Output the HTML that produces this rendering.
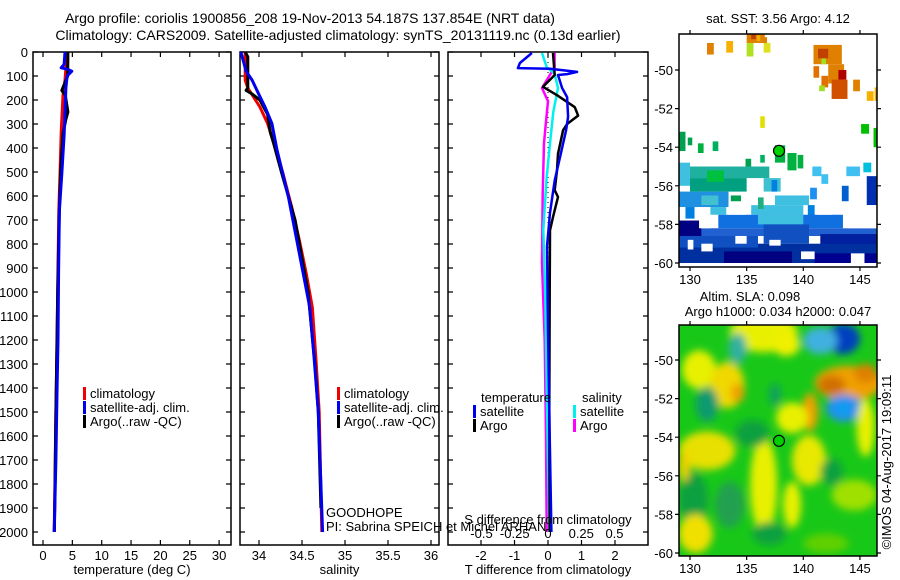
<!DOCTYPE html>
<html><head><meta charset="utf-8">
<style>
html,body{margin:0;padding:0;background:#fff;}
svg{display:block;font-family:"Liberation Sans",sans-serif;}
text{font-size:13px;fill:#000;}
</style></head>
<body>
<svg id="chart" width="900" height="580" viewBox="0 0 900 580" xmlns="http://www.w3.org/2000/svg">
<defs>
<filter id="blur" x="-50%" y="-50%" width="200%" height="200%"><feGaussianBlur stdDeviation="4"/></filter>
<clipPath id="clipMap1"><rect x="679" y="34" width="198" height="233"/></clipPath>
<clipPath id="clipMap2"><rect x="679" y="325" width="198" height="231"/></clipPath>
</defs>
<text x="310" y="23" text-anchor="middle" style="font-size:14px">Argo profile: coriolis 1900856_208 19-Nov-2013 54.187S 137.854E (NRT data)</text>
<text x="338" y="40" text-anchor="middle" style="font-size:14px">Climatology: CARS2009. Satellite-adjusted climatology: synTS_20131119.nc (0.13d earlier)</text>
<g id="g"></g>
</svg>
<script>
// ---------- data ----------
const depthTicks = [0,100,200,300,400,500,600,700,800,900,1000,1100,1200,1300,1400,1500,1600,1700,1800,1900,2000];
const tempTicks = [0,5,10,15,20,25,30];
const salTicks = [34,34.5,35,35.5,36];
const salTickLabels = ["34","34.5","35","35.5","36"];
const tdTicks = [-2,-1,0,1,2];
const sdTicks = [-0.5,-0.25,0,0.25,0.5];
const sdTickLabels = ["-0.5","-0.25","0","0.25","0.5"];

const tClimDepth = [0,117,181,333,508,660,900,1200,1500,1800,2000];
const tClimVal   = [4.1,3.75,3.4,3.1,2.9,2.7,2.55,2.4,2.2,2.05,1.9];
const tSatDepth  = [0,52,66,72,80,100,150,347,508,660,910,1200,1400,1700,2000];
const tSatVal    = [3.75,3.6,3.1,4.2,4.9,4.1,3.9,3.6,3.2,2.8,2.65,2.55,2.4,2.2,1.9];
const tArgoDepth = [0,100,160,180,250,280,340,500,700,1000,1500,2000];
const tArgoVal   = [4.25,4.2,3.2,3.8,4.25,3.9,3.4,3.0,2.75,2.5,2.2,1.95];

const sClimDepth = [0,117,150,229,298,410,508,646,785,924,1063,1270,1500,2000];
const sClimVal   = [33.84,33.84,33.87,34.01,34.1,34.2,34.28,34.38,34.47,34.55,34.62,34.66,34.7,34.73];
const sSatDepth  = [0,80,117,170,229,298,410,600,785,1063,1270,1500,2000];
const sSatVal    = [33.79,33.85,33.92,33.99,34.07,34.15,34.21,34.34,34.44,34.59,34.64,34.69,34.74];
const sArgoDepth = [0,20,150,160,175,200,260,333,380,500,700,1000,1300,1500,1900];
const sArgoVal   = [33.84,33.87,33.87,33.85,33.92,34.01,34.1,34.13,34.17,34.26,34.42,34.57,34.65,34.69,34.72];

const dTSatDepth = [4,46,67,70,83,92,96,150,188,270,326,437,535,670,810,1160,1600,2000];
const dTSatVal   = [-0.48,-0.84,-0.9,0.06,0.87,0.57,0.3,0.42,0.57,0.6,0.54,0.36,0.2,0.06,-0.03,0.0,0.05,0.1];
const dTArgoDepth = [4,96,145,180,208,230,265,300,326,424,493,576,604,688,743,1000,1500,2000];
const dTArgoVal   = [0.15,0.2,-0.15,0.27,0.57,0.8,0.9,0.57,0.45,0.3,0.27,0.2,0.3,0.15,0.06,0.05,0.04,0.05];
const dSArgoDepth = [4,63,150,205,290,380,590,880,1200,1600,2000];
const dSArgoVal   = [0.05,0.05,-0.045,0,-0.015,-0.03,-0.04,-0.045,-0.025,-0.015,-0.01];
const dSSatDepth  = [4,63,90,150,250,380,520,740,1020,1400,2000];
const dSSatVal    = [-0.045,-0.01,0.05,0.075,0.04,0.015,-0.01,-0.035,-0.02,-0.01,0.01];

const lonTicks = [130,135,140,145];
const latTicks = [-50,-52,-54,-56,-58,-60];
const argoLon = 137.854, argoLat = -54.187;

// SST cells: lon0, lon1, lat0(north), lat1(south), colour
const sstCells = [
 [135,136.6,-48.1,-48.6,"#e08000"],[135.4,135.8,-48.1,-48.4,"#c04000"],[135.9,136.2,-48.2,-48.5,"#f0b000"],
 [131.5,132.1,-48.6,-49.2,"#e08000"],[133.2,133.8,-48.5,-49.1,"#f8b000"],[135,135.6,-48.6,-49.3,"#b0e020"],
 [136.5,137.1,-48.6,-49.1,"#e0e020"],[136.4,136.8,-48.3,-48.6,"#e08000"],
 [140.9,143.4,-48.7,-49.7,"#e08000"],[141.3,142.2,-48.9,-49.4,"#c04000"],[141.6,142,-49.4,-49.7,"#a0e020"],
 [142.2,143.6,-49.7,-50.7,"#e08000"],[143.1,143.8,-50,-50.5,"#b00000"],[140.9,141.4,-49.8,-50.4,"#e07000"],
 [142.5,143.9,-50.5,-51.5,"#d05000"],[141.6,142.2,-50.3,-50.9,"#e07000"],[141.4,141.9,-50.8,-51.1,"#a0e020"],
 [144.4,145,-50.5,-51.1,"#e08000"],[145.6,146.2,-51.1,-51.6,"#f8b000"],[146.3,146.6,-50.9,-51.6,"#f8b000"],
 [136.2,136.6,-52.4,-53,"#e0e000"],[145.1,145.8,-52.8,-53.3,"#00c000"],[146.2,146.6,-53,-54,"#00c000"],
 [129,129.6,-53.2,-54.2,"#00a050"],[129.8,130.2,-53.5,-53.9,"#00a050"],[130.7,131.2,-53.8,-54.3,"#00b040"],
 [132,132.5,-53.7,-54.2,"#00b060"],[137.5,138.4,-53.9,-54.8,"#00b040"],[138.6,139.4,-54.3,-55.2,"#00b040"],
 [139.5,140,-54.4,-55.1,"#00b040"],[134.9,135.4,-54.6,-55.1,"#00a050"],[136.2,136.6,-54.4,-54.8,"#00b060"],
 [129,137,-55,-55.6,"#20b0a0"],[129,130,-54.8,-56,"#40c0e0"],[130,135,-55.6,-56.3,"#00a080"],
 [131.5,133,-55.2,-55.8,"#00c040"],[136.5,138,-55.6,-56.3,"#40c0d0"],[137.2,137.7,-55.7,-56.3,"#0080e0"],
 [140.8,141.6,-55,-55.5,"#40c0f0"],[141.6,142.2,-55.4,-55.9,"#40c0f0"],[143.8,145,-55,-55.5,"#40c0f0"],
 [145.3,146,-54.8,-55.3,"#00c0e0"],[145.6,146.5,-55.5,-57,"#0030b0"],[143.4,144,-56,-56.8,"#0060d0"],
 [140.6,141.2,-56.1,-56.7,"#2090f0"],
 [129,133.4,-56.3,-57.1,"#2090e0"],[131,132.5,-56.5,-57,"#40c0d0"],[133.6,134.5,-56.5,-57,"#00a050"],
 [129.6,130.4,-57.1,-57.7,"#0080e0"],[131.8,133.2,-57.1,-57.5,"#40c0e0"],[135.4,140,-57,-57.5,"#40c0e0"],
 [137.5,140.5,-56.5,-57,"#40c0e0"],[136,136.5,-56.6,-57.2,"#20b080"],[140.4,141,-57,-57.6,"#0080e0"],
 [132.5,144,-57.5,-58.2,"#1070e0"],[136,140,-57.5,-58,"#40c0e0"],
 [129,146.5,-58.2,-58.6,"#2060d0"],[129,131,-57.8,-58.7,"#000080"],[136.5,140.5,-58,-59,"#1050c0"],
 [141.5,146.5,-58.5,-59.1,"#0020a0"],[129,146.5,-59,-60,"#0030a0"],[133,139,-59.4,-60,"#000080"],
 [141,146.5,-59.5,-60,"#000090"],[129,136,-58.6,-59.2,"#1050c0"]
];
const sstGaps = [
 [130.8,131.8,-57.6,-58.2],[133.4,134.9,-56.8,-57.5],[141.2,142.5,-56.8,-57.5],[143.5,146.5,-57,-58.2],
 [144.2,145.4,-59.5,-60],[131,132,-59,-59.4],[137,138,-58.8,-59.1],[139.8,141,-59.4,-59.8],[129.8,130.3,-58.8,-59.3],
 [134,135,-58.6,-59],[142,143,-56,-56.7],[138.4,139.5,-55.6,-56.1]
];

// SLA blobs: lon, lat, rx(deg lon), ry(deg lat), colour
const slaBlobs = [
 [136.5,-48.6,3,1.0,"#e8f000"],[138.5,-49.2,1.2,0.6,"#f0f000"],[134.2,-49.4,0.8,0.8,"#30b0a0"],
 [143.5,-48.9,1.5,0.8,"#0040c0"],[141.5,-49,1.5,0.7,"#40b0e0"],[130.8,-50.5,1.5,1.0,"#e8f000"],
 [144,-51.2,3,0.9,"#f0a000"],[142.5,-51.3,1.2,0.5,"#d07000"],[145.5,-50.7,1,0.5,"#e08000"],
 [133.3,-51.3,1.5,1.2,"#f0d800"],[134.2,-51.7,0.6,0.5,"#f0a000"],[137.5,-51.8,0.5,0.6,"#10a060"],
 [143.6,-52.5,1.6,0.7,"#2090f0"],[143.5,-52.5,0.6,0.3,"#00a0f0"],[140.6,-52.7,0.7,1.0,"#f0a000"],
 [131.5,-52.3,1,0.9,"#109a70"],[139,-53,1.4,0.8,"#e8f000"],[132.2,-54.6,1.8,0.6,"#f0a000"],
 [131.5,-54.7,2.5,1.0,"#e8e000"],[140.5,-55.2,1.5,1.3,"#e8e800"],[136.5,-56.5,1.2,2.5,"#e8f000"],
 [142.5,-55.8,1,0.7,"#10a040"],[130.3,-57.2,1.3,1.4,"#10a040"],[130.5,-59,1.5,1.0,"#f0e000"],
 [133.5,-57.5,1.3,1.2,"#20a050"],[139,-57.5,0.8,1.2,"#e8f000"],[144.5,-57,2,0.8,"#a0e000"],
 [135.5,-53.8,1.5,0.7,"#10a040"],[137,-59,1.5,0.6,"#10a040"],[142,-59.5,2,0.5,"#60d000"],
 [145.5,-53.5,0.8,1.5,"#e8f000"],[129.5,-55.5,0.5,0.8,"#f0d000"]
];

// ---------- helpers ----------
const NS = "http://www.w3.org/2000/svg";
const G = document.getElementById("g");
function mk(tag, attrs, parent){
  const e = document.createElementNS(NS, tag);
  for (const k in attrs) e.setAttribute(k, attrs[k]);
  (parent||G).appendChild(e);
  return e;
}
const y0 = 52, yScale = 0.24, yBot = 545;
function yD(d){ return y0 + d*yScale; }
function xT(v){ return 43 + v*5.87; }
function xS(v){ return 259 + (v-34)*86; }
function xTd(v){ return 548 + v*33.5; }
function xSd(v){ return 548 + v*133; }
function mx(lon){ return 690 + (lon-130)*11.33; }
function my1(lat){ return 70 + (-50-lat)*19.3; }
function my2(lat){ return 360 + (-50-lat)*19.3; }

function panelFrame(x0, x1, name, xticks, xfn, xlabels, xtitle, showDepth){
  const r = mk("rect",{x:x0,y:y0,width:x1-x0,height:yBot-y0,fill:"none",stroke:"#000","stroke-width":1.5});
  
  
  depthTicks.forEach(d=>{
    const t = mk("path",{d:`M${x0},${yD(d)}h5M${x1},${yD(d)}h-5`,stroke:"#000","stroke-width":1.2});
    
    
    if (showDepth){
      const l = mk("text",{x:28,y:yD(d)+5,"text-anchor":"end"});
      l.textContent = d;
      
      
    }
  });
  xticks.forEach((v,i)=>{
    const t = mk("path",{d:`M${xfn(v)},${y0}v5M${xfn(v)},${yBot}v-5`,stroke:"#000","stroke-width":1.2});
    
    
    const l = mk("text",{x:xfn(v),y:560,"text-anchor":"middle"});
    l.textContent = xlabels[i];
    
    
  });
  const tt = mk("text",{x:(x0+x1)/2,y:574,"text-anchor":"middle"});
  tt.textContent = xtitle;
  
  
}
function line(depths, vals, xfn, color, name, w){
  const pts = depths.map((d,i)=>`${xfn(vals[i]).toFixed(1)},${yD(d).toFixed(1)}`).join(" ");
  const p = mk("polyline",{points:pts,fill:"none",stroke:color,"stroke-width":w||3,"stroke-linejoin":"round"});
  
  
}
function legend(x, y, color, label, name){
  const b = mk("rect",{x:x,y:y-10,width:3,height:13,fill:color});
  
  
  const t = mk("text",{x:x+7,y:y+1});
  t.textContent = label;
  
  
}

// ---------- panel 1: temperature ----------
panelFrame(33,231,"temperature-panel",tempTicks,xT,tempTicks.map(String),"temperature (deg C)",true);
line(tClimDepth,tClimVal,xT,"#f00000","temp-climatology-line");
line(tArgoDepth,tArgoVal,xT,"#000","temp-argo-line");
line(tSatDepth,tSatVal,xT,"#0000f0","temp-satellite-line");
legend(83,397,"#f00000","climatology","temp-legend-climatology");
legend(83,411,"#0000f0","satellite-adj. clim.","temp-legend-satellite");
legend(83,425,"#000","Argo(..raw -QC)","temp-legend-argo");

// ---------- panel 2: salinity ----------
panelFrame(240,439,"salinity-panel",salTicks,xS,salTickLabels,"salinity",false);
line(sClimDepth,sClimVal,xS,"#f00000","sal-climatology-line");
line(sArgoDepth,sArgoVal,xS,"#000","sal-argo-line");
line(sSatDepth,sSatVal,xS,"#0000f0","sal-satellite-line");
legend(337,397,"#f00000","climatology","sal-legend-climatology");
legend(337,411,"#0000f0","satellite-adj. clim.","sal-legend-satellite");
legend(337,425,"#000","Argo(..raw -QC)","sal-legend-argo");

// ---------- panel 3: differences ----------
panelFrame(448,648,"difference-panel",tdTicks,xTd,tdTicks.map(String),"T difference from climatology",false);
const zl = mk("line",{x1:xTd(0),y1:y0,x2:xTd(0),y2:yD(1200),stroke:"#000","stroke-width":1,"stroke-dasharray":"1,4"});


line(dSArgoDepth,dSArgoVal,xSd,"#ff00ff","sal-diff-argo-line",2.5);
line(dSSatDepth,dSSatVal,xSd,"#00f0f0","sal-diff-satellite-line",2.5);
line(dTArgoDepth,dTArgoVal,xTd,"#000","temp-diff-argo-line",2.5);
line(dTSatDepth,dTSatVal,xTd,"#0000f0","temp-diff-satellite-line",2.5);
const lt = mk("text",{x:481,y:402}); lt.textContent="temperature";


const ls = mk("text",{x:582,y:402}); ls.textContent="salinity";


legend(473,415,"#0000f0","satellite","diff-legend-temp-satellite");
legend(473,429,"#000","Argo","diff-legend-temp-argo");
legend(573,415,"#00f0f0","satellite","diff-legend-sal-satellite");
legend(573,429,"#ff00ff","Argo","diff-legend-sal-argo");
const sdt = mk("text",{x:548,y:524,"text-anchor":"middle"}); sdt.textContent="S difference from climatology";


sdTicks.forEach((v,i)=>{
  const l = mk("text",{x:xSd(v),y:538,"text-anchor":"middle"});
  l.textContent = sdTickLabels[i];
  
  
});
const gh = mk("text",{x:326,y:517}); gh.textContent="GOODHOPE";


const pi = mk("text",{x:326,y:531}); pi.textContent="PI: Sabrina SPEICH et Michel ARHAN";



// ---------- maps ----------
function mapFrame(top, bot, myf, name){
  const r = mk("rect",{x:679,y:top,width:198,height:bot-top,fill:"none",stroke:"#000","stroke-width":1.5});
  
  
  lonTicks.forEach(v=>{
    const t = mk("path",{d:`M${mx(v)},${top}v-4M${mx(v)},${bot}v4`,stroke:"#000","stroke-width":1.2});
    
    
    const l = mk("text",{x:mx(v),y:bot+17,"text-anchor":"middle"});
    l.textContent = v;
    
    
  });
  latTicks.forEach(v=>{
    const t = mk("path",{d:`M679,${myf(v)}h-4M877,${myf(v)}h4`,stroke:"#000","stroke-width":1.2});
    
    
    const l = mk("text",{x:673,y:myf(v)+5,"text-anchor":"end"});
    l.textContent = v;
    
    
  });
  const c = mk("circle",{cx:mx(argoLon),cy:myf(argoLat),r:5.5,fill:"#00d000",stroke:"#000","stroke-width":1.2});
  
  
}
const g1 = mk("g",{"clip-path":"url(#clipMap1)"});


sstCells.forEach(c=>{
  const r = mk("rect",{x:mx(c[0]),y:my1(c[2]),width:mx(c[1])-mx(c[0]),height:my1(c[3])-my1(c[2]),fill:c[4]},g1);
  
  
});
sstGaps.forEach(c=>{
  const r = mk("rect",{x:mx(c[0]),y:my1(c[2]),width:mx(c[1])-mx(c[0]),height:my1(c[3])-my1(c[2]),fill:"#fff"},g1);
  
  
});
mapFrame(34,267,my1,"sst-map");
const t1 = mk("text",{x:778,y:23,"text-anchor":"middle"}); t1.textContent="sat. SST: 3.56 Argo: 4.12";



const g2 = mk("g",{"clip-path":"url(#clipMap2)"});


const bg = mk("rect",{x:679,y:325,width:198,height:231,fill:"#18c818"},g2);


const gb = mk("g",{filter:"url(#blur)"},g2);
slaBlobs.forEach(b=>{
  const e = mk("ellipse",{cx:mx(b[0]),cy:my2(b[1]),rx:b[2]*11.33,ry:b[3]*19.3,fill:b[4]},gb);
  
  
});
mapFrame(325,556,my2,"sla-map");
const t2 = mk("text",{x:750,y:301,"text-anchor":"middle"}); t2.textContent="Altim. SLA: 0.098";


const t3 = mk("text",{x:778,y:316,"text-anchor":"middle"}); t3.textContent="Argo h1000: 0.034 h2000: 0.047";


const cr = mk("text",{x:0,y:0,"text-anchor":"middle",transform:"translate(891,462) rotate(-90)"}); cr.textContent="©IMOS 04-Aug-2017 19:09:11";


</script>
</body></html>
